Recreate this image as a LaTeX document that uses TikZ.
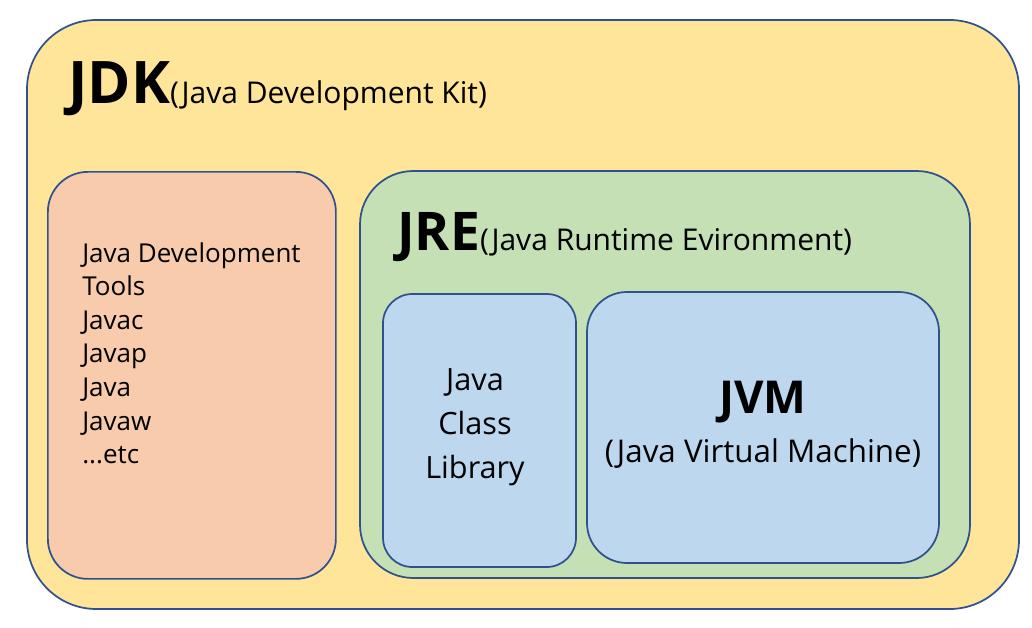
\documentclass[tikz,border=0pt]{standalone}
\usepackage{fontspec}
\setmainfont{Open Sans}
\definecolor{bd}{RGB}{47,82,143}
\definecolor{jdk}{RGB}{255,229,153}
\definecolor{tools}{RGB}{248,203,173}
\definecolor{jre}{RGB}{197,224,180}
\definecolor{jvm}{RGB}{189,215,238}
\begin{document}
\begin{tikzpicture}[x=0.75pt,y=-0.75pt,
  box/.style={draw=bd,line width=1.3pt}]
\useasboundingbox (0,0) rectangle (1032,628);
\draw[box,fill=jdk,rounded corners=52pt] (27,20) rectangle (1019,609);
\node[box,fill=tools,rounded corners=30pt,minimum width=288*0.75pt,minimum height=407*0.75pt,anchor=north west] (tools) at (47,171) {};
\draw[box,fill=jre,rounded corners=40pt] (360,171) rectangle (970,578);
\draw[box,fill=jvm,rounded corners=22pt] (383,294) rectangle (576,567);
\draw[box,fill=jvm,rounded corners=30pt] (587,292) rectangle (939,563);
\node[anchor=base west,inner sep=0] (jdkt) at (68,103) {\fontsize{44}{44}\selectfont\bfseries JDK\fontsize{22.5}{22.5}\selectfont\mdseries(Java Development Kit)};
\node[anchor=base west,inner sep=0] (jret) at (397,250) {\fontsize{40}{40}\selectfont\bfseries JRE\fontsize{22.5}{22.5}\selectfont\mdseries(Java Runtime Evironment)};
\node[anchor=north west,align=left,inner sep=0,font=\fontsize{19.5}{25.2}\selectfont] (list) at (82,242) {Java Development\\Tools\\Javac\\Javap\\Java\\Javaw\\...etc};
\node[align=center,inner sep=0,font=\fontsize{23}{33}\selectfont] (jcl) at (475,427) {Java\\Class\\Library};
\node[inner sep=0] (jvmt) at (763,402) {\fontsize{34}{34}\selectfont\bfseries JVM};
\node[inner sep=0] (jvms) at (763,454) {\fontsize{23.5}{23.5}\selectfont (Java Virtual Machine)};
\end{tikzpicture}
\end{document}
